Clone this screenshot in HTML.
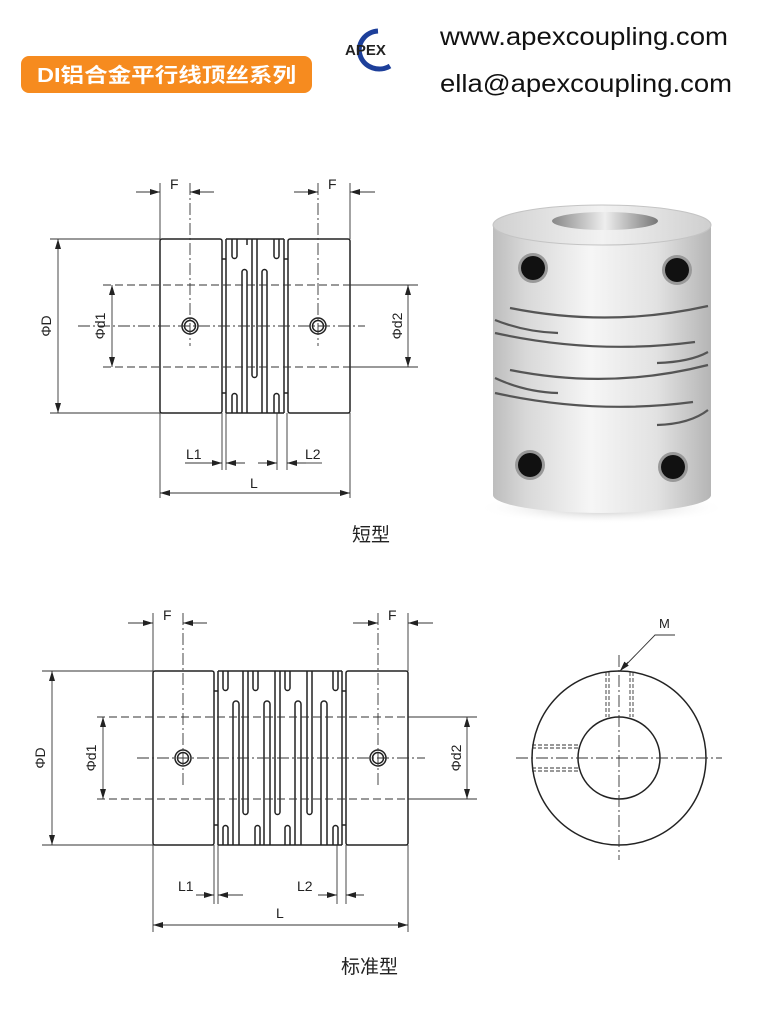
<!DOCTYPE html>
<html><head><meta charset="utf-8"><style>
html,body{margin:0;padding:0;background:#fff;}
svg{display:block}
text{font-family:"Liberation Sans","Noto Sans CJK SC",sans-serif;}
</style></head><body>
<svg width="771" height="1024" viewBox="0 0 771 1024" xmlns="http://www.w3.org/2000/svg">
<defs>
<marker id="ar" viewBox="0 0 10 6" refX="10" refY="3" markerWidth="10" markerHeight="6" orient="auto" markerUnits="userSpaceOnUse">
<path d="M0,0 L10,3 L0,6 z" fill="#222"/></marker>
<linearGradient id="body" x1="0" x2="1" y1="0" y2="0">
<stop offset="0" stop-color="#bdbdbd"/><stop offset="0.15" stop-color="#d8d8d8"/><stop offset="0.45" stop-color="#f6f6f6"/><stop offset="0.75" stop-color="#e2e2e2"/><stop offset="1" stop-color="#b5b5b5"/></linearGradient>
<linearGradient id="top" x1="0" x2="1"><stop offset="0" stop-color="#d0d0d0"/><stop offset="0.5" stop-color="#f2f2f2"/><stop offset="1" stop-color="#cfcfcf"/></linearGradient>
<linearGradient id="hole" x1="0" x2="1"><stop offset="0" stop-color="#888"/><stop offset="0.5" stop-color="#eee"/><stop offset="1" stop-color="#777"/></linearGradient>
<radialGradient id="sh" cx="0.5" cy="0.5" r="0.5"><stop offset="0" stop-color="#999" stop-opacity="0.7"/><stop offset="1" stop-color="#fff" stop-opacity="0"/></radialGradient>
</defs>

<!-- header -->
<rect x="21" y="56" width="291" height="37" rx="8" fill="#f68b1f"/>
<text x="37" y="82" font-size="20" font-weight="bold" fill="#fff" textLength="259" lengthAdjust="spacingAndGlyphs">DI铝合金平行线顶丝系列</text>
<path d="M378,31 A20,19 0 1 0 390,66" fill="none" stroke="#1d3f9a" stroke-width="5"/>
<text x="345" y="55" font-size="15" font-weight="bold" fill="#222">APEX</text>
<text x="440" y="45" font-size="25" fill="#111" textLength="288" lengthAdjust="spacingAndGlyphs">www.apexcoupling.com</text>
<text x="440" y="92" font-size="25" fill="#111" textLength="292" lengthAdjust="spacingAndGlyphs">ella@apexcoupling.com</text>

<!-- ============ SHORT TYPE ============ -->
<g stroke="#222" fill="none" stroke-width="1.5">
<rect x="160" y="239" width="62" height="174" rx="2"/>
<rect x="288" y="239" width="62" height="174" rx="2"/>
<line x1="226" y1="239" x2="226" y2="413"/><line x1="222" y1="259" x2="226" y2="259"/><line x1="222" y1="393" x2="226" y2="393"/>
<line x1="284" y1="239" x2="284" y2="413"/><line x1="284" y1="259" x2="288" y2="259"/><line x1="284" y1="393" x2="288" y2="393"/>
<line x1="226" y1="239" x2="284" y2="239"/><line x1="226" y1="413" x2="284" y2="413"/>
<path d="M232,239 V256 A2.5,2.5 0 0 0 237,256 V239"/>
<path d="M274,239 V256 A2.5,2.5 0 0 0 279,256 V239"/>
<path d="M232,413 V396 A2.5,2.5 0 0 1 237,396 V413"/>
<path d="M274,413 V396 A2.5,2.5 0 0 1 279,396 V413"/>
<path d="M242,413 V272 A2.5,2.5 0 0 1 247,272 V413"/>
<path d="M262,413 V272 A2.5,2.5 0 0 1 267,272 V413"/>
<path d="M252,239 V375 A2.5,2.5 0 0 0 257,375 V239"/>
<line x1="247" y1="239" x2="247" y2="245"/>
<circle cx="190" cy="326" r="8"/><circle cx="190" cy="326" r="5.5"/>
<circle cx="318" cy="326" r="8"/><circle cx="318" cy="326" r="5.5"/>
</g>
<g stroke="#333" fill="none" stroke-width="0.9">
<line x1="78" y1="326" x2="365" y2="326" stroke-dasharray="12,3,2,3"/>
<line x1="190" y1="183" x2="190" y2="346" stroke-dasharray="12,3,2,3"/>
<line x1="318" y1="183" x2="318" y2="346" stroke-dasharray="12,3,2,3"/>
<line x1="160" y1="183" x2="160" y2="239"/><line x1="350" y1="183" x2="350" y2="239"/>
<line x1="136" y1="192" x2="160" y2="192" marker-end="url(#ar)"/><line x1="214" y1="192" x2="190" y2="192" marker-end="url(#ar)"/>
<line x1="294" y1="192" x2="318" y2="192" marker-end="url(#ar)"/><line x1="375" y1="192" x2="350" y2="192" marker-end="url(#ar)"/>
<line x1="50" y1="239" x2="160" y2="239"/><line x1="50" y1="413" x2="160" y2="413"/>
<line x1="58" y1="326" x2="58" y2="239" marker-end="url(#ar)"/><line x1="58" y1="326" x2="58" y2="413" marker-end="url(#ar)"/>
<line x1="103" y1="285" x2="350" y2="285" stroke-dasharray="8,4"/><line x1="103" y1="367" x2="350" y2="367" stroke-dasharray="8,4"/>
<line x1="350" y1="285" x2="418" y2="285"/><line x1="350" y1="367" x2="418" y2="367"/>
<line x1="112" y1="326" x2="112" y2="285" marker-end="url(#ar)"/><line x1="112" y1="326" x2="112" y2="367" marker-end="url(#ar)"/>
<line x1="408" y1="326" x2="408" y2="285" marker-end="url(#ar)"/><line x1="408" y1="326" x2="408" y2="367" marker-end="url(#ar)"/>
<line x1="222" y1="413" x2="222" y2="470"/><line x1="226" y1="413" x2="226" y2="470"/>
<line x1="277" y1="413" x2="277" y2="470"/><line x1="287" y1="413" x2="287" y2="470"/>
<line x1="203" y1="463" x2="222" y2="463" marker-end="url(#ar)"/><line x1="245" y1="463" x2="226" y2="463" marker-end="url(#ar)"/>
<line x1="258" y1="463" x2="277" y2="463" marker-end="url(#ar)"/><line x1="306" y1="463" x2="287" y2="463" marker-end="url(#ar)"/>
<line x1="185" y1="463" x2="203" y2="463"/><line x1="306" y1="463" x2="322" y2="463"/>
<line x1="160" y1="413" x2="160" y2="498"/><line x1="350" y1="413" x2="350" y2="498"/>
<line x1="255" y1="493" x2="160" y2="493" marker-end="url(#ar)"/><line x1="255" y1="493" x2="350" y2="493" marker-end="url(#ar)"/>
</g>
<g font-size="14" fill="#222">
<text x="170" y="189">F</text><text x="328" y="189">F</text>
<text x="186" y="459">L1</text><text x="305" y="459">L2</text>
<text x="250" y="488">L</text>
<text transform="translate(51,326) rotate(-90)" text-anchor="middle">ΦD</text>
<text transform="translate(105,326) rotate(-90)" text-anchor="middle">Φd1</text>
<text transform="translate(402,326) rotate(-90)" text-anchor="middle">Φd2</text>
</g>
<text x="352" y="541" font-size="19" fill="#222">短型</text>

<!-- ============ PHOTO ============ -->
<ellipse cx="602" cy="508" rx="125" ry="16" fill="url(#sh)"/>
<path d="M493,225 V495 A109,18 0 0 0 711,495 V225 Z" fill="url(#body)"/>
<ellipse cx="602" cy="225" rx="109" ry="20" fill="url(#top)" stroke="#c4c4c4"/>
<ellipse cx="605" cy="221" rx="53" ry="9" fill="url(#hole)"/>
<g fill="none" stroke="#555" stroke-width="2.2">
<path d="M510,308 Q610,328 708,306"/>
<path d="M495,320 Q525,332 558,333"/>
<path d="M495,333 Q595,355 695,342"/>
<path d="M657,363 Q690,362 708,352"/>
<path d="M510,370 Q610,390 708,365"/>
<path d="M495,378 Q525,392 558,393"/>
<path d="M495,393 Q595,415 693,402"/>
<path d="M657,425 Q690,424 708,410"/>
</g>
<g>
<circle cx="533" cy="268" r="15" fill="#999"/><circle cx="533" cy="268" r="12" fill="#111"/>
<circle cx="677" cy="270" r="15" fill="#999"/><circle cx="677" cy="270" r="12" fill="#111"/>
<circle cx="530" cy="465" r="15" fill="#999"/><circle cx="530" cy="465" r="12" fill="#111"/>
<circle cx="673" cy="467" r="15" fill="#999"/><circle cx="673" cy="467" r="12" fill="#111"/>
</g>

<!-- ============ STANDARD TYPE ============ -->
<g stroke="#222" fill="none" stroke-width="1.5">
<rect x="153" y="671" width="61" height="174" rx="2"/>
<rect x="346" y="671" width="62" height="174" rx="2"/>
<line x1="218" y1="671" x2="218" y2="845"/><line x1="214" y1="691" x2="218" y2="691"/><line x1="214" y1="825" x2="218" y2="825"/>
<line x1="342" y1="671" x2="342" y2="845"/><line x1="342" y1="691" x2="346" y2="691"/><line x1="342" y1="825" x2="346" y2="825"/>
<line x1="218" y1="671" x2="342" y2="671"/><line x1="218" y1="845" x2="342" y2="845"/>
<path d="M223,671 V688 A2.5,2.5 0 0 0 228,688 V671"/>
<path d="M253,671 V688 A2.5,2.5 0 0 0 258,688 V671"/>
<path d="M285,671 V688 A2.5,2.5 0 0 0 290,688 V671"/>
<path d="M333,671 V688 A2.5,2.5 0 0 0 338,688 V671"/>
<path d="M223,845 V828 A2.5,2.5 0 0 1 228,828 V845"/>
<path d="M255,845 V828 A2.5,2.5 0 0 1 260,828 V845"/>
<path d="M285,845 V828 A2.5,2.5 0 0 1 290,828 V845"/>
<path d="M333,845 V828 A2.5,2.5 0 0 1 338,828 V845"/>
<path d="M233,845 V704 A3,3 0 0 1 239,704 V845"/>
<path d="M264,845 V704 A3,3 0 0 1 270,704 V845"/>
<path d="M295,845 V704 A3,3 0 0 1 301,704 V845"/>
<path d="M321,845 V704 A3,3 0 0 1 327,704 V845"/>
<path d="M243,671 V812 A2.5,2.5 0 0 0 248,812 V671"/>
<path d="M275,671 V812 A2.5,2.5 0 0 0 280,812 V671"/>
<path d="M307,671 V812 A2.5,2.5 0 0 0 312,812 V671"/>
<circle cx="183" cy="758" r="8"/><circle cx="183" cy="758" r="5.5"/>
<circle cx="378" cy="758" r="8"/><circle cx="378" cy="758" r="5.5"/>
</g>
<g stroke="#333" fill="none" stroke-width="0.9">
<line x1="137" y1="758" x2="425" y2="758" stroke-dasharray="12,3,2,3"/>
<line x1="183" y1="613" x2="183" y2="785" stroke-dasharray="12,3,2,3"/>
<line x1="378" y1="613" x2="378" y2="785" stroke-dasharray="12,3,2,3"/>
<line x1="153" y1="613" x2="153" y2="671"/><line x1="408" y1="613" x2="408" y2="671"/>
<line x1="128" y1="623" x2="153" y2="623" marker-end="url(#ar)"/><line x1="207" y1="623" x2="183" y2="623" marker-end="url(#ar)"/>
<line x1="353" y1="623" x2="378" y2="623" marker-end="url(#ar)"/><line x1="433" y1="623" x2="408" y2="623" marker-end="url(#ar)"/>
<line x1="42" y1="671" x2="153" y2="671"/><line x1="42" y1="845" x2="153" y2="845"/>
<line x1="52" y1="758" x2="52" y2="671" marker-end="url(#ar)"/><line x1="52" y1="758" x2="52" y2="845" marker-end="url(#ar)"/>
<line x1="97" y1="717" x2="408" y2="717" stroke-dasharray="8,4"/><line x1="97" y1="799" x2="408" y2="799" stroke-dasharray="8,4"/>
<line x1="408" y1="717" x2="477" y2="717"/><line x1="408" y1="799" x2="477" y2="799"/>
<line x1="103" y1="758" x2="103" y2="717" marker-end="url(#ar)"/><line x1="103" y1="758" x2="103" y2="799" marker-end="url(#ar)"/>
<line x1="467" y1="758" x2="467" y2="717" marker-end="url(#ar)"/><line x1="467" y1="758" x2="467" y2="799" marker-end="url(#ar)"/>
<line x1="214" y1="845" x2="214" y2="904"/><line x1="218" y1="845" x2="218" y2="904"/>
<line x1="337" y1="845" x2="337" y2="904"/><line x1="346" y1="845" x2="346" y2="904"/>
<line x1="196" y1="895" x2="214" y2="895" marker-end="url(#ar)"/><line x1="243" y1="895" x2="218" y2="895" marker-end="url(#ar)"/>
<line x1="318" y1="895" x2="337" y2="895" marker-end="url(#ar)"/><line x1="364" y1="895" x2="346" y2="895" marker-end="url(#ar)"/>
<line x1="153" y1="845" x2="153" y2="932"/><line x1="408" y1="845" x2="408" y2="932"/>
<line x1="280" y1="925" x2="153" y2="925" marker-end="url(#ar)"/><line x1="280" y1="925" x2="408" y2="925" marker-end="url(#ar)"/>
</g>
<g font-size="14" fill="#222">
<text x="163" y="620">F</text><text x="388" y="620">F</text>
<text x="178" y="891">L1</text><text x="297" y="891">L2</text>
<text x="276" y="918">L</text>
<text transform="translate(45,758) rotate(-90)" text-anchor="middle">ΦD</text>
<text transform="translate(96,758) rotate(-90)" text-anchor="middle">Φd1</text>
<text transform="translate(461,758) rotate(-90)" text-anchor="middle">Φd2</text>
</g>
<text x="341" y="973" font-size="19" fill="#222">标准型</text>

<!-- ============ END VIEW ============ -->
<g stroke="#222" fill="none" stroke-width="1.5">
<circle cx="619" cy="758" r="87"/>
<circle cx="619" cy="758" r="41"/>
</g>
<g stroke="#333" fill="none" stroke-width="0.9">
<line x1="516" y1="758" x2="722" y2="758" stroke-dasharray="12,3,2,3"/>
<line x1="619" y1="655" x2="619" y2="860" stroke-dasharray="12,3,2,3"/>
<g stroke-dasharray="4,2">
<line x1="606" y1="672" x2="606" y2="717"/><line x1="609" y1="672" x2="609" y2="717"/>
<line x1="630" y1="672" x2="630" y2="717"/><line x1="633" y1="672" x2="633" y2="717"/>
<line x1="532" y1="745" x2="578" y2="745"/><line x1="532" y1="748" x2="578" y2="748"/>
<line x1="532" y1="768" x2="578" y2="768"/><line x1="532" y1="771" x2="578" y2="771"/>
</g>
<polyline points="675,635 655,635 621,670"/>
<line x1="628" y1="662" x2="620" y2="671" marker-end="url(#ar)"/>
</g>
<text x="659" y="628" font-size="13" fill="#222">M</text>
</svg>
</body></html>
